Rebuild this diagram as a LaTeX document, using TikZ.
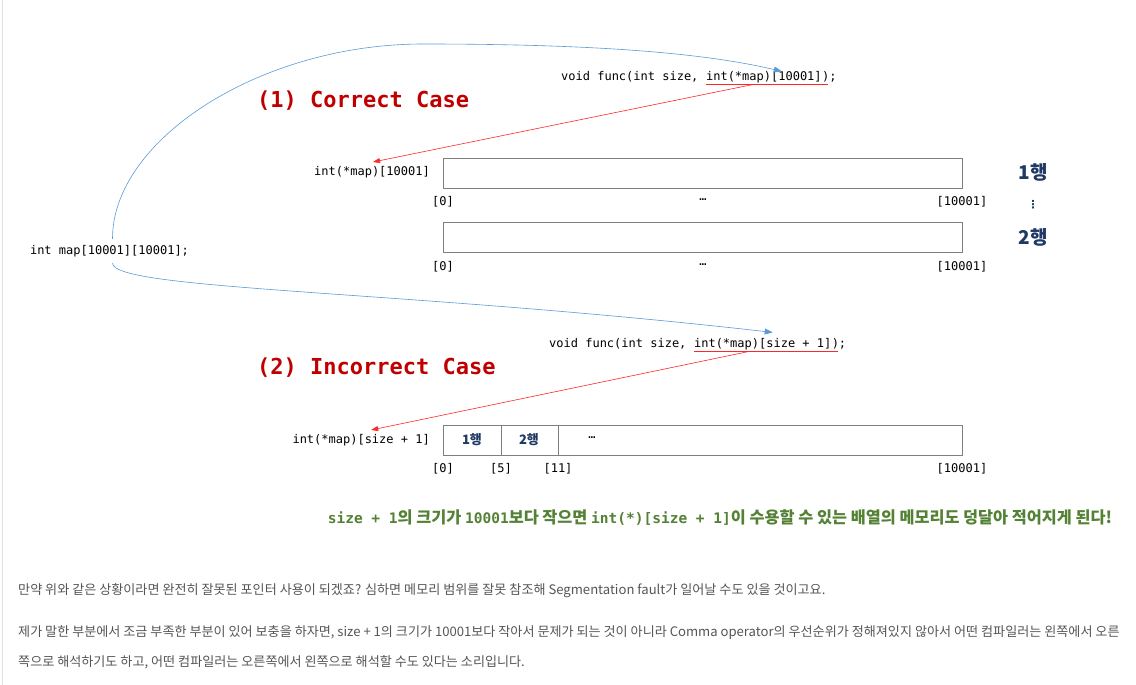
\documentclass[tikz,border=0pt]{standalone}
\usepackage{fontspec}
\setmonofont{DejaVu Sans Mono}
\newfontfamily\kr{Noto Sans CJK KR}
\newfontfamily\dejavu{DejaVu Sans}
\usetikzlibrary{arrows.meta}
\definecolor{cred}{RGB}{192,0,0}
\definecolor{arrred}{RGB}{255,40,40}
\definecolor{cblue}{RGB}{91,155,213}
\definecolor{navy}{RGB}{31,56,100}
\definecolor{cgreen}{RGB}{84,130,53}
\definecolor{ctext}{RGB}{85,85,85}
\definecolor{cbox}{RGB}{127,127,127}
\newcommand{\gm}[1]{{\ttfamily\bfseries\fontsize{14.5}{17}\selectfont #1}}
\newcommand{\gk}[1]{{\kr\bfseries\fontsize{16.3}{18}\selectfont #1}}
\tikzset{
  code/.style={font=\ttfamily\fontsize{12}{14}\selectfont, inner sep=0pt, text=black},
  casetitle/.style={font=\ttfamily\bfseries\fontsize{22}{26}\selectfont, text=cred, inner sep=0pt, anchor=west},
  memrow/.style={draw=cbox, line width=0.8pt, minimum width=519pt, minimum height=30pt, inner sep=0pt, anchor=north west},
  rowlab/.style={font=\kr\bfseries\fontsize{19}{22}\selectfont, text=navy, inner sep=0pt},
  celllab/.style={font=\kr\bfseries\fontsize{13}{15}\selectfont, text=navy, inner sep=0pt},
  redarr/.style={draw=arrred, line width=0.6pt, -{Triangle[length=7pt,width=5pt]}},
  redline/.style={draw=arrred, line width=0.6pt},
  bluearr/.style={draw=cblue, line width=0.6pt, -{Triangle[length=8pt,width=6pt]}},
  para/.style={font=\kr\fontsize{13.1}{15}\selectfont, text=ctext, anchor=west, inner sep=0pt},
  note/.style={text=cgreen, inner sep=0pt}
}
\begin{document}
\begin{tikzpicture}[x=1pt,y=-1pt]
\useasboundingbox[fill=white] (0,0) rectangle (1136,685);
\draw[gray!25, line width=1.5pt] (2.5,0) -- (2.5,685);

% correct case
\node[code, anchor=west] (f1a) at (561,77) {void func(int size,};
\node[code, anchor=base west] (f1b) at ([xshift=7.22pt]f1a.base east) {int(*map)[10001]};
\node[code, anchor=base west] (f1c) at (f1b.base east) {);};
\draw[redline] ([yshift=-3.5pt]f1b.base west) -- ([xshift=6pt,yshift=-3.5pt]f1b.base east);
\node[casetitle] (t1) at (257,101) {(1) Correct Case};

\node[code, anchor=east] (lab1) at (430,172) {int(*map)[10001]};
\node[memrow] (row1) at (443,158) {};
\node[code] (r1i0) at (443,202) {[0]};
\node[code] (r1id) at (703,200) {…};
\node[code] (r1ie) at (962,202) {[10001]};
\node[memrow] (row2) at (443,222) {};
\node[code] (r2i0) at (443,267) {[0]};
\node[code] (r2id) at (703,265) {…};
\node[code] (r2ie) at (962,267) {[10001]};
\node[rowlab] (rl1) at (1033,172) {1행};
\node[font=\dejavu\bfseries\fontsize{11}{13}\selectfont, text=navy, inner sep=0pt] (vd) at (1033,205) {⋮};
\node[rowlab] (rl2) at (1033,237) {2행};

\node[code] (mapdecl) at (109.5,251) {int map[10001][10001];};

% incorrect case
\node[code, anchor=west] (f2a) at (549,344) {void func(int size,};
\node[code, anchor=base west] (f2b) at ([xshift=7.22pt]f2a.base east) {int(*map)[size + 1]};
\node[code, anchor=base west] (f2c) at (f2b.base east) {);};
\draw[redline] ([yshift=-3.5pt]f2b.base west) -- ([xshift=6pt,yshift=-3.5pt]f2b.base east);
\node[casetitle] (t2) at (257,368) {(2) Incorrect Case};

\node[code, anchor=east] (lab3) at (430,440) {int(*map)[size + 1]};
\node[memrow] (row3) at (443,425) {};
\draw[cbox, line width=0.8pt] (501,425) -- (501,455);
\draw[cbox, line width=0.8pt] (558,425) -- (558,455);
\node[celllab] (c1) at (472,440) {1행};
\node[celllab] (c2) at (529,440) {2행};
\node[code] (c3) at (592,438) {…};
\node[code] (r3i0) at (443,469) {[0]};
\node[code] (r3i5) at (501,469) {[5]};
\node[code] (r3i11) at (558,469) {[11]};
\node[code] (r3ie) at (962,469) {[10001]};

\node[note] (green) at (720,518) {\gm{size + 1}\gk{의 크기가 }\gm{10001}\gk{보다 작으면 }\gm{int(*)[size + 1]}\gk{이 수용할 수 있는 배열의 메모리도 덩달아 적어지게 된다!}};

% arrows
\draw[bluearr] ([xshift=3pt,yshift=6pt]mapdecl.north) .. controls (112,140) and (260,44) .. (423,44) .. controls (586,44) and (700,52) .. ([xshift=18pt]f1b.north);
\draw[bluearr] ([xshift=3pt,yshift=-6pt]mapdecl.south) .. controls (112,290) and (400,290) .. ([xshift=10pt,yshift=6pt]f2b.north);
\draw[redarr] ([xshift=-12pt,yshift=-4pt]f1b.base) -- ([xshift=1pt,yshift=4pt]lab1.north);
\draw[redarr] ([xshift=-15pt,yshift=-4pt]f2b.base) -- ([xshift=10pt,yshift=4pt]lab3.north);

% paragraphs
\node[para] (p1) at (18,591) {만약 위와 같은 상황이라면 완전히 잘못된 포인터 사용이 되겠죠? 심하면 메모리 범위를 잘못 참조해 Segmentation fault가 일어날 수도 있을 것이고요.};
\node[para] (p2) at (18,633) {제가 말한 부분에서 조금 부족한 부분이 있어 보충을 하자면, size + 1의 크기가 10001보다 작아서 문제가 되는 것이 아니라 Comma operator의 우선순위가 정해져있지 않아서 어떤 컴파일러는 왼쪽에서 오른};
\node[para] (p3) at (18,662) {쪽으로 해석하기도 하고, 어떤 컴파일러는 오른쪽에서 왼쪽으로 해석할 수도 있다는 소리입니다.};
\end{tikzpicture}
\end{document}
